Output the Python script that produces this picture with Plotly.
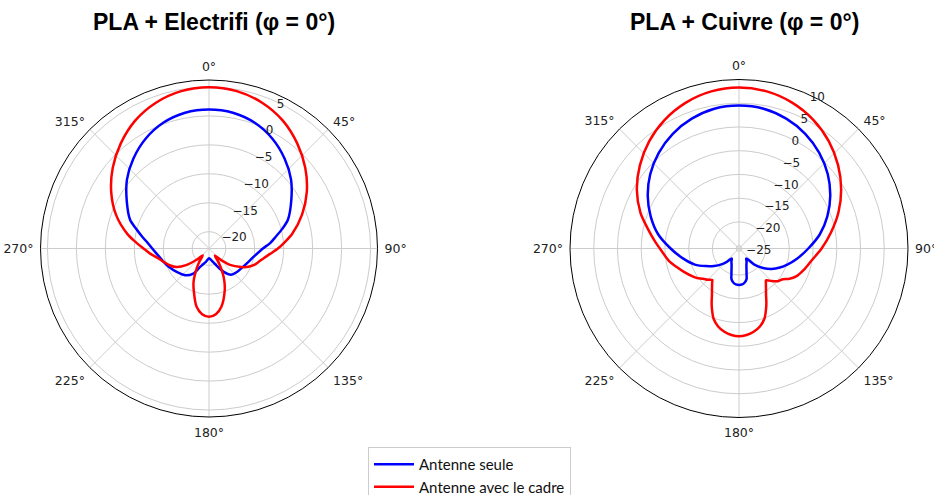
import plotly.graph_objects as go

# ---- data (dB vs angle in degrees, 0° = top, clockwise) ----
ang_blue_L = [0, 10, 20, 30, 40, 50, 60, 70, 75, 80, 85, 90, 100, 110, 120, 130, 140, 148, 155, 165, 172, 180,
              188, 195, 205, 212, 222, 234, 245, 254, 262, 270, 275, 280, 285, 290, 300, 310, 320, 330, 340, 350, 360]
blue_L = [1.1, 0.9, 0.2, -1.0, -2.6, -4.4, -6.5, -8.4, -9.8, -11.2, -12.3, -13.6, -15.0, -15.8, -16.3, -16.6, -17.0,
          -18.2, -19.5, -20.6, -21.0, -21.2, -20.9, -20.4, -19.5, -17.8, -16.7, -16.0, -15.3, -14.7, -14.05,
          -13.1, -12.3, -11.2, -9.9, -8.4, -6.5, -4.4, -2.6, -1.0, 0.2, 0.9, 1.1]

ang_red_L = [0, 10, 20, 30, 40, 50, 60, 70, 80, 85, 90, 95, 100, 105, 110, 115, 120, 128, 135, 141, 146, 151,
             155, 160, 168, 174, 180, 186, 192, 200, 205, 209, 216, 222, 228, 234, 240, 247, 254, 260, 265,
             270, 275, 280, 290, 300, 310, 320, 330, 340, 350, 360]
red_L = [4.95, 4.7, 3.9, 2.6, 0.8, -1.2, -3.4, -5.8, -8.3, -9.7, -11.0, -12.3, -13.3, -14.0, -14.6, -15.4,
         -16.5, -18.3, -20.3, -21.3, -19.8, -18.0, -16.6, -15.0, -12.6, -11.5, -11.1, -11.5, -12.6, -15.2,
         -16.6, -18.0, -20.0, -21.3, -20.0, -18.0, -16.5, -15.5, -14.7, -13.8, -12.7, -11.6, -10.2, -8.6,
         -5.8, -3.4, -1.2, 0.8, 2.6, 3.9, 4.7, 4.95]

ang_blue_R = [0, 10, 20, 30, 40, 50, 60, 70, 80, 90, 100, 108, 115, 122, 129, 136, 144, 150, 155, 160,
              164, 166, 170, 175, 180, 185, 190, 194, 196, 200, 205, 210, 216, 222, 228, 235, 242,
              250, 260, 270, 280, 290, 300, 310, 320, 330, 340, 350, 360]
blue_R = [4.5, 4.3, 3.5, 2.3, 0.7, -1.2, -3.4, -5.8, -8.3, -11.0, -13.2, -14.8, -16.1, -17.5, -19.1, -20.8,
          -23.0, -22.4, -21.9, -21.0, -19.8, -19.0, -18.4, -18.0, -17.9, -18.0, -18.4, -19.0, -19.8, -21.0,
          -21.9, -22.4, -23.0, -21.9, -20.6, -19.2, -17.7, -15.7, -13.6, -11.2, -8.3, -5.8, -3.4, -1.2,
          0.7, 2.3, 3.5, 4.3, 4.5]

ang_red_R = [0, 10, 20, 30, 40, 50, 60, 70, 80, 90, 100, 108, 116, 121, 125, 130, 135, 139.6, 142, 145, 150,
             153, 156, 160, 165, 170, 175, 180, 185, 190, 195, 200, 204, 207, 210, 215, 218, 220.4,
             225, 230, 235, 239, 247, 254, 260, 267, 275, 282, 290, 300, 310, 320, 330, 340, 350, 360]
red_R = [8.3, 8.0, 7.1, 5.7, 3.85, 1.66, -0.75, -3.3, -5.9, -8.2, -10.2, -11.2, -12.2, -13.2, -14.3, -14.9,
         -15.9, -16.8, -16.4, -15.7, -14.2, -12.9, -11.6, -9.9, -8.6, -7.8, -7.3, -7.1, -7.3, -7.8, -8.6,
         -9.9, -11.6, -12.9, -14.2, -15.7, -16.4, -16.9, -16.3, -15.7, -14.8, -14.2, -13.0, -11.8, -10.6,
         -9.5, -7.8, -6.0, -3.5, -0.75, 1.66, 3.85, 5.7, 7.1, 8.0, 8.3]

angle_ticks = [0, 45, 90, 135, 180, 225, 270, 315]
angle_labels = [f"{a}°" for a in angle_ticks]
range_L = [-22.9, 6.2]
range_R = [-25.6, 10]
titles = ["PLA + Electrifi (φ = 0°)", "PLA + Cuivre (φ = 0°)"]
names = ["Antenne seule", "Antenne avec le cadre"]

BLUE = "#0000ff"
RED = "#ff0000"
GRID = "#cccccc"

fig = go.Figure()
line_kw = dict(width=2.5, shape="spline", smoothing=0.8)
fig.add_trace(go.Scatterpolar(theta=ang_blue_L, r=blue_L, mode="lines", name=names[0],
                              line=dict(color=BLUE, **line_kw), subplot="polar"))
fig.add_trace(go.Scatterpolar(theta=ang_red_L, r=red_L, mode="lines", name=names[1],
                              line=dict(color=RED, **line_kw), subplot="polar"))
fig.add_trace(go.Scatterpolar(theta=ang_blue_R, r=blue_R, mode="lines", name=names[0], showlegend=False,
                              line=dict(color=BLUE, **line_kw), subplot="polar2"))
fig.add_trace(go.Scatterpolar(theta=ang_red_R, r=red_R, mode="lines", name=names[1], showlegend=False,
                              line=dict(color=RED, **line_kw), subplot="polar2"))

W, H = 934, 495


def px_x(x):
    return x / W


def px_y(y):
    return 1 - y / H


def polar_layout(cx, cy, rad, rng):
    return dict(
        domain=dict(x=[px_x(cx - rad), px_x(cx + rad)], y=[px_y(cy + rad), px_y(cy - rad)]),
        bgcolor="white",
        angularaxis=dict(rotation=90, direction="clockwise", tickvals=angle_ticks, ticktext=angle_labels,
                         showline=True, linecolor="black", linewidth=1, gridcolor=GRID, gridwidth=1,
                         ticks="outside", ticklen=4, tickcolor="rgba(0,0,0,0)",
                         tickfont=dict(family="DejaVu Sans", size=12.5, color="#222")),
        radialaxis=dict(range=rng, dtick=5, tick0=0, angle=67.5, showline=False, ticks="",
                        gridcolor=GRID, gridwidth=1, tickangle=67.5,
                        tickfont=dict(family="DejaVu Sans", size=12, color="#222")),
    )


fig.update_layout(
    width=W, height=H,
    margin=dict(l=0, r=0, t=0, b=0, autoexpand=False),
    paper_bgcolor="white",
    polar=polar_layout(209, 248.5, 168.5, range_L),
    polar2=polar_layout(739, 248.5, 169, range_R),
    showlegend=True,
    legend=dict(x=px_x(368), y=px_y(447), xanchor="left", yanchor="top",
                bordercolor="#cccccc", borderwidth=1, bgcolor="white", itemwidth=40,
                font=dict(family="Lato", size=15, color="#111"), tracegroupgap=0),
    annotations=[
        dict(text=f"<b>{titles[0]}</b>", x=px_x(214), y=px_y(22), xref="paper", yref="paper",
             xanchor="center", yanchor="middle", showarrow=False,
             font=dict(family="Liberation Sans", size=23, color="black")),
        dict(text=f"<b>{titles[1]}</b>", x=px_x(744), y=px_y(22), xref="paper", yref="paper",
             xanchor="center", yanchor="middle", showarrow=False,
             font=dict(family="Liberation Sans", size=23, color="black")),
    ],
)

fig.write_html("out.html", config={"displayModeBar": False},
               post_script="document.body.style.margin='0';document.body.style.overflow='hidden';")
